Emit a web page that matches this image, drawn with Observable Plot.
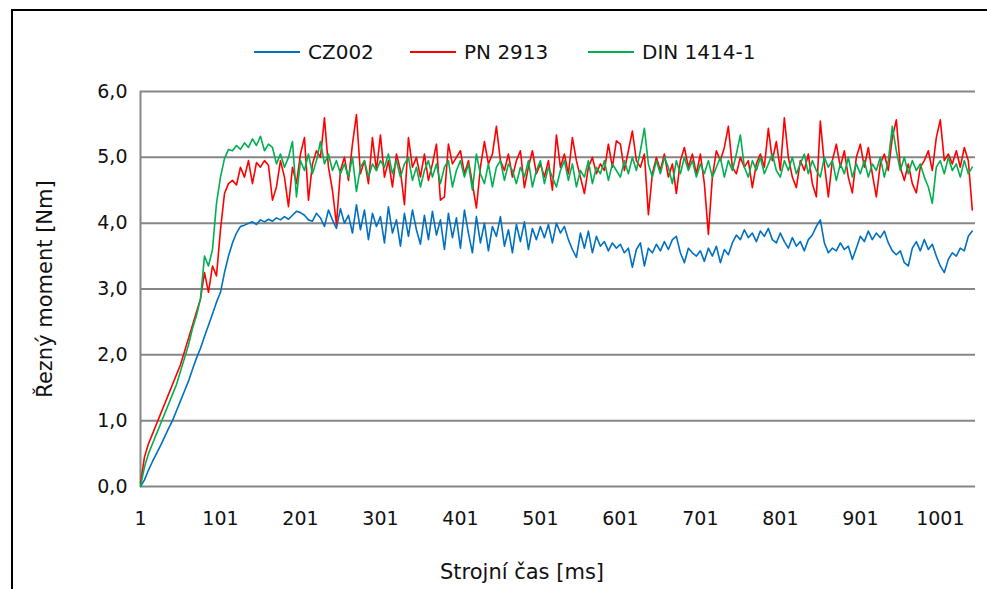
<!DOCTYPE html>
<html>
<head>
<meta charset="utf-8">
<script src="https://cdn.jsdelivr.net/npm/d3@7"></script>
<script src="https://cdn.jsdelivr.net/npm/@observablehq/plot@0.6"></script>
<style>
  html, body { margin: 0; padding: 0; background: #fff; }
  #wrap { position: relative; width: 987px; height: 589px; overflow: hidden; font-family: "DejaVu Sans", sans-serif; }
  #frame { position: absolute; left: 11px; top: 9px; width: 990px; height: 600px; border-left: 2px solid #000; border-top: 2px solid #000; box-sizing: border-box; }
  #legend { position: absolute; top: 39px; left: 0; width: 987px; height: 26px; font-size: 20px; color: #111; }
  .item { position: absolute; top: 0; display: flex; align-items: center; height: 26px; }
  .sw { display: inline-block; width: 46px; height: 2px; margin-right: 8px; }
  #chart { position: absolute; left: 0; top: 0; }
</style>
</head>
<body>
<div id="wrap">
  <div id="frame"></div>
  <div id="chart"></div>
  <div id="legend"></div>
</div>
<script>
// Series names and colours
const seriesNames = ["CZ002", "PN 2913", "DIN 1414-1"];
const seriesColors = ["#0070C0", "#FF0000", "#00B050"];

// Sampling of the time axis [ms]: first sample and step
const timeStart = 1;
const timeStep = 5;

// X tick labels and y ticks
const xTicks = [1, 101, 201, 301, 401, 501, 601, 701, 801, 901, 1001];
const yTicks = [0, 1, 2, 3, 4, 5, 6];

// CZ002 (blue)
const cz002 = [
  0.00,0.10,0.25,0.38,0.50,0.62,0.75,0.88,1.00,1.15,1.30,1.45,1.60,1.78,1.95,2.10,2.28,2.45,2.62,2.80,
  2.95,3.25,3.50,3.70,3.85,3.95,3.97,4.00,4.02,3.98,4.05,4.02,4.06,4.03,4.08,4.05,4.10,4.06,4.12,4.18,
  4.16,4.12,4.05,4.03,4.15,4.08,3.95,4.20,4.05,3.92,4.22,4.00,4.12,3.85,4.28,3.90,4.20,3.75,4.15,3.95,
  4.10,3.70,4.25,3.85,4.05,3.65,4.15,3.80,4.20,3.90,3.68,4.12,3.75,4.18,3.82,4.05,3.60,4.15,3.78,4.08,
  3.62,4.20,3.85,3.55,4.10,3.70,4.00,3.58,3.95,3.80,4.10,3.65,3.90,3.55,3.98,3.72,4.02,3.60,3.92,3.75,
  3.95,3.78,3.98,3.70,4.00,3.85,3.95,3.75,3.60,3.48,3.85,3.62,3.88,3.55,3.80,3.65,3.72,3.58,3.70,3.62,
  3.68,3.55,3.62,3.33,3.60,3.70,3.35,3.62,3.55,3.68,3.58,3.72,3.60,3.75,3.80,3.55,3.40,3.62,3.55,3.50,
  3.58,3.42,3.62,3.50,3.65,3.40,3.60,3.52,3.70,3.82,3.75,3.90,3.78,3.85,3.72,3.88,3.80,3.92,3.75,3.70,
  3.85,3.72,3.62,3.78,3.65,3.72,3.58,3.75,3.82,3.95,4.05,3.70,3.55,3.62,3.58,3.70,3.60,3.65,3.45,3.62,
  3.80,3.72,3.88,3.75,3.85,3.78,3.88,3.70,3.58,3.52,3.58,3.40,3.35,3.62,3.72,3.58,3.75,3.60,3.68,3.50,
  3.35,3.25,3.45,3.55,3.50,3.62,3.58,3.80,3.88
];

// PN 2913 (red)
const pn2913 = [
  0.05,0.45,0.65,0.80,0.95,1.10,1.25,1.40,1.55,1.70,1.85,2.05,2.25,2.45,2.65,2.85,3.25,2.95,3.35,3.20,
  3.90,4.45,4.60,4.65,4.58,4.85,4.70,4.95,4.60,4.92,4.85,4.95,4.88,4.35,4.55,4.95,4.70,4.25,4.85,4.60,
  5.05,5.30,4.35,4.90,5.10,5.00,5.60,4.85,4.50,3.98,4.80,5.00,4.65,5.20,5.65,4.75,4.95,4.60,5.30,4.80,
  5.34,4.70,4.95,4.55,5.05,4.80,4.28,5.30,4.85,5.00,4.70,5.05,4.65,4.90,5.20,4.35,4.40,5.20,4.90,5.00,
  5.10,4.75,4.95,4.60,4.23,4.85,5.24,4.90,5.05,5.47,4.95,4.80,5.05,4.70,4.95,5.10,4.54,4.85,5.10,4.75,
  4.90,4.70,4.95,4.50,5.34,4.85,5.05,4.75,5.30,4.95,4.70,4.45,4.85,5.00,4.75,4.90,4.80,5.20,4.85,5.25,
  5.20,4.80,5.10,5.40,4.95,4.85,5.05,4.13,4.75,5.00,4.80,5.05,4.70,4.90,4.45,4.95,5.15,4.85,5.05,4.75,
  5.05,4.60,3.83,4.70,5.10,4.95,5.15,5.47,4.85,4.75,5.00,4.85,4.95,4.54,4.90,5.05,4.85,5.44,4.95,5.24,
  4.80,5.60,5.00,4.70,4.54,4.95,4.80,5.05,4.60,4.40,5.55,4.90,4.40,4.95,5.20,4.85,5.10,4.70,4.46,5.00,
  5.20,4.85,5.15,4.75,4.40,4.90,5.05,4.80,5.30,5.57,4.85,4.65,4.90,4.60,4.46,4.85,4.95,5.10,4.80,5.30,
  5.57,4.95,5.05,4.90,5.10,4.85,5.15,4.95,4.20
];

// DIN 1414-1 (green)
const din1414 = [
  0.00,0.30,0.50,0.65,0.80,0.95,1.10,1.25,1.40,1.55,1.75,1.95,2.15,2.40,2.60,2.85,3.50,3.35,3.60,4.30,
  4.70,4.98,5.12,5.10,5.18,5.12,5.22,5.15,5.28,5.18,5.32,5.10,5.20,5.15,4.90,5.05,4.85,5.00,5.24,4.40,
  4.95,4.80,5.05,4.75,4.95,5.24,4.90,5.05,4.80,4.95,4.75,4.90,4.70,5.00,4.48,4.85,4.95,4.70,4.90,4.80,
  4.95,4.85,5.05,4.75,4.95,4.70,4.90,5.00,4.65,4.85,4.55,4.80,4.95,4.70,4.90,4.60,4.85,4.95,4.55,4.80,
  4.95,4.70,4.90,4.50,5.05,4.75,4.60,4.90,4.55,4.85,4.95,4.65,4.90,4.80,4.60,4.85,4.70,4.95,4.55,4.80,
  4.95,4.60,4.85,4.70,4.55,4.80,4.95,4.65,4.90,4.55,4.80,4.70,4.95,4.60,4.85,4.75,4.95,4.65,4.90,4.80,
  4.70,4.95,4.75,5.00,4.80,5.10,5.44,4.90,4.70,4.95,4.75,5.00,4.85,4.60,4.95,4.75,5.00,4.80,4.95,4.70,
  4.90,4.75,4.95,4.70,4.85,5.00,4.70,4.95,4.80,5.05,5.34,4.85,4.70,4.95,4.80,5.00,4.75,4.90,5.05,4.80,
  4.70,4.95,4.80,5.00,4.75,4.90,5.05,4.75,4.95,4.80,4.70,5.00,4.85,4.95,4.65,4.90,4.75,5.00,4.70,4.90,
  4.75,4.95,4.70,4.90,4.80,5.00,4.70,4.95,5.47,5.10,4.80,5.00,4.75,4.95,4.80,4.90,4.70,4.55,4.30,4.85,
  4.95,4.75,5.00,4.80,4.90,4.70,4.95,4.75,4.85
];

const seriesValues = [cz002, pn2913, din1414];

const rows = [];
seriesValues.forEach((vals, s) => {
  vals.forEach((v, i) => rows.push({series: seriesNames[s], t: timeStart + i * timeStep, v}));
});

const fmt = d => d.toFixed(1).replace(".", ",");

const chart = Plot.plot({
  width: 987,
  height: 589,
  marginLeft: 140,
  marginRight: 12,
  marginTop: 91,
  marginBottom: 103,
  style: {background: "transparent", fontFamily: "DejaVu Sans, sans-serif", fontSize: "19px", color: "#111"},
  x: {domain: [1, 1045], ticks: xTicks, label: null},
  y: {domain: [0, 6], ticks: yTicks, label: null},
  color: {domain: seriesNames, range: seriesColors},
  marks: [
    Plot.gridY(yTicks, {stroke: "#868686", strokeOpacity: 1, strokeWidth: 2}),
    Plot.ruleX([1], {stroke: "#868686", strokeWidth: 2}),
    Plot.axisY(yTicks, {tickSize: 0, tickPadding: 13, tickFormat: fmt, fontSize: 19}),
    Plot.axisX(xTicks, {tickSize: 0, tickPadding: 25, tickFormat: d => String(d), fontSize: 19}),
    Plot.line(rows, {x: "t", y: "v", z: "series", stroke: "series", strokeWidth: 1.6, strokeLinejoin: "round"}),
    Plot.text(["Strojní čas [ms]"], {frameAnchor: "bottom", dx: -36, dy: 92, fontSize: 21, fill: "#111"}),
    Plot.text(["Řezný moment [Nm]"], {frameAnchor: "left", textAnchor: "middle", dx: -95, rotate: -90, fontSize: 21, fill: "#111"})
  ]
});
document.getElementById("chart").appendChild(chart);

// Legend
const legend = document.getElementById("legend");
const legendLeft = [254, 410, 588];
seriesNames.forEach((name, i) => {
  const item = document.createElement("div");
  item.className = "item";
  item.style.left = legendLeft[i] + "px";
  const sw = document.createElement("span");
  sw.className = "sw";
  sw.style.background = seriesColors[i];
  const label = document.createElement("span");
  label.textContent = name;
  item.appendChild(sw);
  item.appendChild(label);
  legend.appendChild(item);
});
</script>
</body>
</html>
